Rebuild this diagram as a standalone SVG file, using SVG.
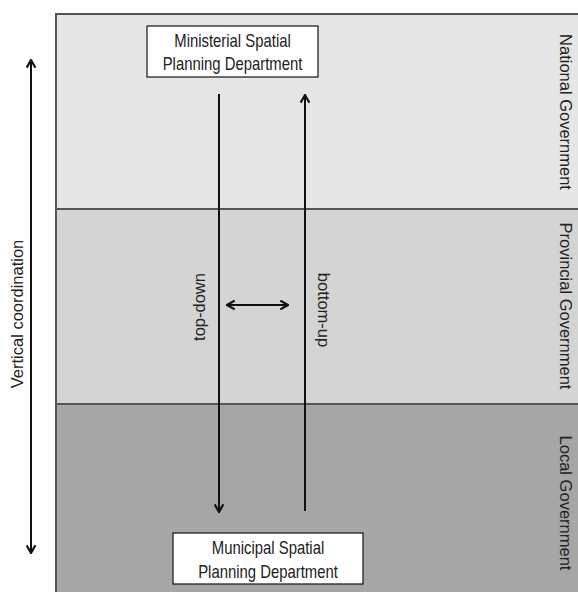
<svg xmlns="http://www.w3.org/2000/svg" width="578" height="592" viewBox="0 0 578 592">
  <style>
    .band-line { stroke: #555; stroke-width: 2; fill: none; }
    .arrow { stroke: #111; stroke-width: 2; fill: none; }
    .box { fill: #fff; stroke: #111; stroke-width: 1.2; }
    .lbl { font-family: "Liberation Sans", Arial, sans-serif; font-size: 17.5px; fill: #222; text-anchor: middle; }
    .side { font-family: "Liberation Sans", Arial, sans-serif; font-size: 16.5px; fill: #222; text-anchor: middle; }
  </style>
  <defs>
    <marker id="head" viewBox="0 0 10 10" refX="9" refY="5" markerWidth="11" markerHeight="11" markerUnits="userSpaceOnUse" orient="auto-start-reverse">
      <path d="M2,1 L9,5 L2,9" fill="none" stroke="#111" stroke-width="2"/>
    </marker>
  </defs>

  <!-- government levels -->
  <g id="levels">
    <rect x="56" y="14" width="530" height="195" fill="#e6e6e6"/>
    <rect x="56" y="209" width="530" height="195" fill="#d4d4d4"/>
    <rect x="56" y="404" width="530" height="195" fill="#a6a6a6"/>
    <path class="band-line" d="M56,600 V14 H586"/>
    <path class="band-line" d="M56,209 H586 M56,404 H586"/>
  </g>

  <g id="label-national">
    <text class="side" transform="translate(560,112) rotate(90)">National Government</text>
  </g>
  <g id="label-provincial">
    <text class="side" transform="translate(560,306) rotate(90)">Provincial Government</text>
  </g>
  <g id="label-local">
    <text class="side" transform="translate(560,503) rotate(90)">Local Government</text>
  </g>

  <!-- box labels are set slightly condensed -->
  <g id="ministerial">
    <rect class="box" x="147" y="26" width="171" height="51"/>
    <text class="lbl" transform="translate(232.5,47) scale(0.85,1)">Ministerial Spatial</text>
    <text class="lbl" transform="translate(232.5,70) scale(0.85,1)">Planning Department</text>
  </g>

  <g id="municipal">
    <rect class="box" x="173" y="533" width="190" height="51"/>
    <text class="lbl" transform="translate(268,554) scale(0.85,1)">Municipal Spatial</text>
    <text class="lbl" transform="translate(268,578) scale(0.85,1)">Planning Department</text>
  </g>

  <g id="connectors">
    <line class="arrow" x1="219" y1="94" x2="219" y2="512" marker-end="url(#head)"/>
    <line class="arrow" x1="305" y1="511" x2="305" y2="95" marker-end="url(#head)"/>
    <line class="arrow" x1="227" y1="305" x2="288" y2="305" marker-start="url(#head)" marker-end="url(#head)"/>
    <line class="arrow" x1="31" y1="60" x2="31" y2="553" marker-start="url(#head)" marker-end="url(#head)"/>
  </g>

  <g id="flow-labels">
    <text class="side" transform="translate(205,307) rotate(-90)">top-down</text>
    <text class="side" transform="translate(318,310) rotate(90)">bottom-up</text>
    <text class="side" transform="translate(23,314) rotate(-90)">Vertical coordination</text>
  </g>
</svg>
